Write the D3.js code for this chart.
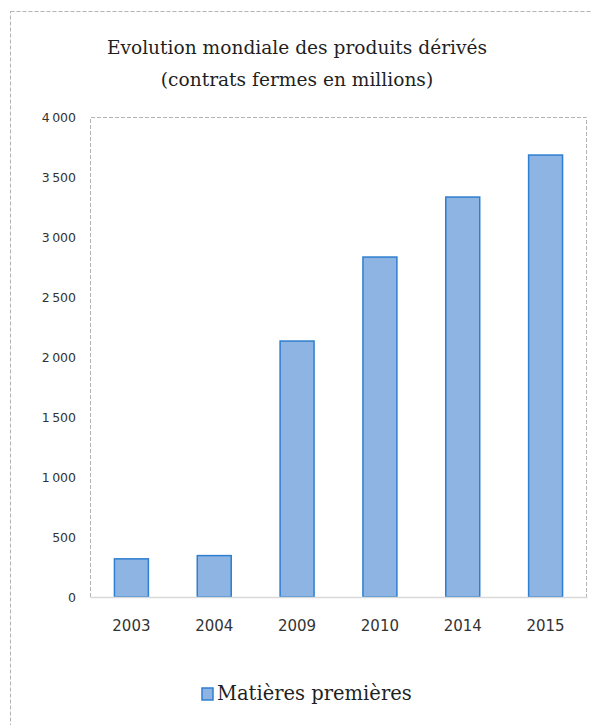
<!DOCTYPE html>
<html>
<head>
<meta charset="utf-8">
<script src="https://cdn.jsdelivr.net/npm/d3@7"></script>
<style>
  body { margin: 0; background: #fff; }
  svg { display: block; }
</style>
</head>
<body>
<svg id="chart" width="592" height="725"></svg>
<script>
// data
var years = ["2003", "2004", "2009", "2010", "2014", "2015"];
var values = [318, 345, 2133, 2833, 3333, 3683];
var yTicks = [0, 500, 1000, 1500, 2000, 2500, 3000, 3500, 4000];
var seriesName = "Matières premières";
var titleLines = ["Evolution mondiale des produits dérivés", "(contrats fermes en millions)"];

var svg = d3.select("#chart"),
	width = +svg.attr("width"),
	height = +svg.attr("height");

var margin = {top: 117, right: 5, bottom: 128, left: 90};
var plotW = width - margin.left - margin.right,
	plotH = height - margin.top - margin.bottom;

var fr = d3.formatLocale({decimal: ",", thousands: "\u2009", grouping: [3], currency: ["", " €"]});
var fmt = fr.format(",d");

var serif = "'DejaVu Serif', Cambria, serif";
var sans = "'DejaVu Sans', Calibri, sans-serif";
var borderColor = "#b3b3b3";

// outer chart border (dashed, runs off the picture on right and bottom)
svg.append("rect")
	.attr("x", 10.5)
	.attr("y", 11.5)
	.attr("width", width + 20)
	.attr("height", height + 20)
	.attr("fill", "none")
	.attr("stroke", borderColor)
	.attr("stroke-dasharray", "4,2");

// title
var title = svg.append("text")
	.attr("text-anchor", "middle")
	.attr("font-family", serif)
	.attr("font-size", 18.6)
	.attr("fill", "#1f1f1f");
title.selectAll("tspan")
	.data(titleLines)
	.enter().append("tspan")
		.attr("x", 297)
		.attr("y", function (d, i) { return 54 + i * 32; })
		.text(function (d) { return d; });

var x = d3.scaleBand()
	.domain(years)
	.range([0, plotW])
	.paddingInner(0.59)
	.paddingOuter(0.295);

var y = d3.scaleLinear()
	.domain([0, 4000])
	.range([plotH, 0]);

var g = svg.append("g")
	.attr("transform", "translate(" + margin.left + "," + margin.top + ")");

// plot area border: dashed top, left, right
g.append("path")
	.attr("d", "M0.5," + plotH + "V0.5H" + (plotW - 0.5) + "V" + plotH)
	.attr("fill", "none")
	.attr("stroke", borderColor)
	.attr("stroke-dasharray", "4,2");

// y axis labels only
var yAxis = g.append("g")
	.call(d3.axisLeft(y).tickValues(yTicks).tickFormat(fmt).tickSize(0).tickPadding(14));
yAxis.select(".domain").remove();
yAxis.selectAll("text")
	.attr("font-family", sans)
	.attr("font-size", 12.5)
	.attr("fill", "#333");

// bars
g.selectAll(".bar")
	.data(values)
	.enter().append("rect")
		.attr("class", "bar")
		.attr("x", function (d, i) { return x(years[i]); })
		.attr("y", function (d) { return y(d); })
		.attr("width", x.bandwidth())
		.attr("height", function (d) { return plotH - y(d); })
		.attr("fill", "#8eb4e3")
		.attr("stroke", "#2e7fcf")
		.attr("stroke-width", 1.5);

// x axis
var xAxis = g.append("g")
	.attr("transform", "translate(0," + plotH + ")")
	.call(d3.axisBottom(x).tickSize(0).tickPadding(23));
xAxis.select(".domain")
	.attr("stroke", "#d9d9d9")
	.attr("stroke-width", 1.5);
xAxis.selectAll("text")
	.attr("font-family", sans)
	.attr("font-size", 15)
	.attr("fill", "#333");

// legend
var legend = svg.append("g")
	.attr("transform", "translate(202,688)");
legend.append("rect")
	.attr("width", 11)
	.attr("height", 12)
	.attr("fill", "#8eb4e3")
	.attr("stroke", "#2e7fcf")
	.attr("stroke-width", 1.5);
legend.append("text")
	.attr("x", 15)
	.attr("y", 12)
	.attr("font-family", serif)
	.attr("font-size", 19.5)
	.attr("fill", "#1f1f1f")
	.text(seriesName);
</script>
</body>
</html>
